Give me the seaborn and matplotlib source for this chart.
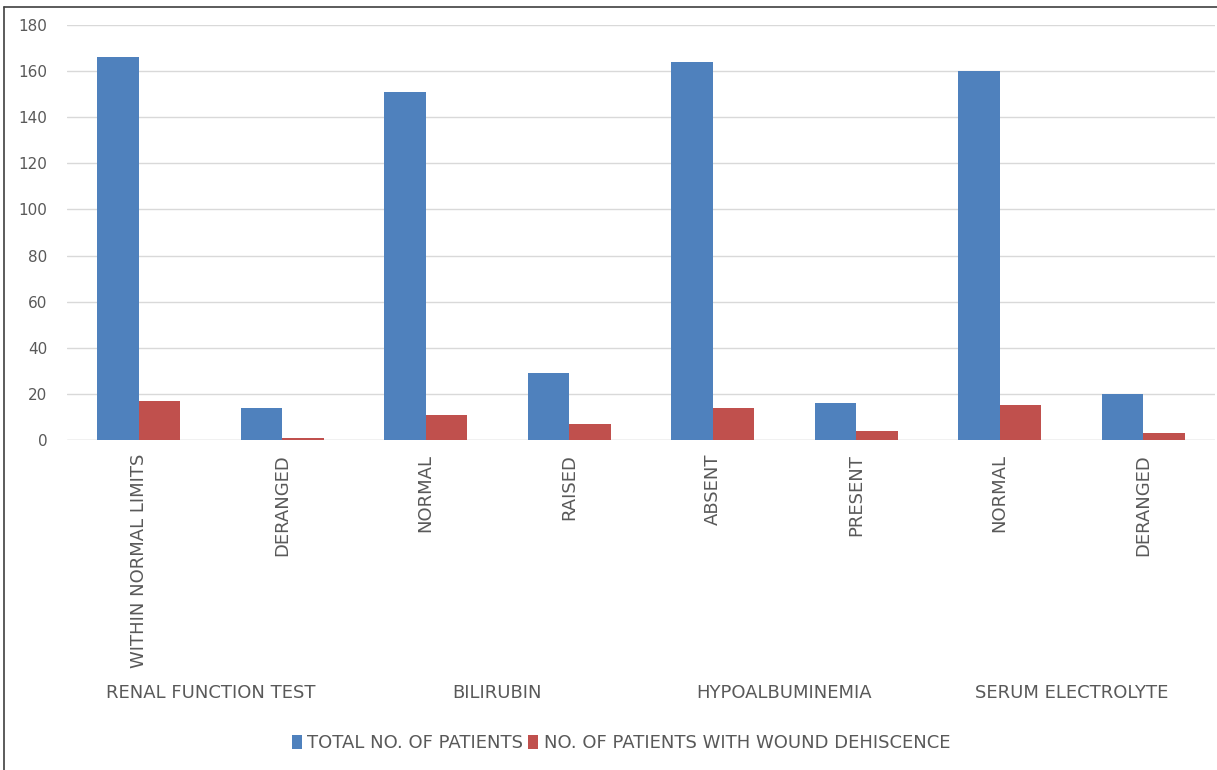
import matplotlib
matplotlib.use("Agg")
import matplotlib.pyplot as plt
from matplotlib.lines import Line2D
from matplotlib.patches import Patch
import pandas as pd
import seaborn as sns

# Lab parameters grouped by test
groups = ["RENAL FUNCTION TEST", "BILIRUBIN", "HYPOALBUMINEMIA", "SERUM ELECTROLYTE"]
subcategories = ["WITHIN NORMAL LIMITS", "DERANGED", "NORMAL", "RAISED",
                 "ABSENT", "PRESENT", "NORMAL", "DERANGED"]
group_of_sub = [0, 0, 1, 1, 2, 2, 3, 3]

total_patients = [166, 14, 151, 29, 164, 16, 160, 20]
dehiscence_patients = [17, 1, 11, 7, 14, 4, 15, 3]

series_names = ["TOTAL NO. OF PATIENTS", "NO. OF PATIENTS WITH WOUND DEHISCENCE"]
colors = ["#4f81bd", "#c0504d"]
y_ticks = list(range(0, 181, 20))

# Long-form table; keys keep repeated sub-category names apart
keys = [f"{groups[g]}|{s}" for g, s in zip(group_of_sub, subcategories)]
df = pd.DataFrame({
    "key": keys * 2,
    "series": [series_names[0]] * len(keys) + [series_names[1]] * len(keys),
    "value": total_patients + dehiscence_patients,
})

sns.set_theme(style="white")
plt.rcParams["font.family"] = ["DejaVu Sans"]

fig = plt.figure(figsize=(12.17, 7.70), dpi=100)
ax = fig.add_axes([67 / 1217, 1 - 440 / 770, (1215 - 67) / 1217, 415 / 770])

sns.barplot(data=df, x="key", y="value", hue="series", order=keys,
            hue_order=series_names, palette=colors, width=0.58,
            saturation=1, ax=ax, legend=False, errorbar=None, linewidth=0)

ax.set_ylim(0, 180)
ax.set_yticks(y_ticks)
ax.yaxis.grid(True, color="#d9d9d9", linewidth=1)
ax.set_axisbelow(True)
for side in ["left", "right", "top", "bottom"]:
    ax.spines[side].set_visible(False)
ax.axhline(0, color="#d9d9d9", linewidth=1, zorder=0.5)

label_color = "#595959"
ax.set_xlabel("")
ax.set_ylabel("")
ax.set_xticks(range(len(keys)))
ax.set_xticklabels(subcategories, rotation=90, va="top", ha="center",
                   fontsize=13, color=label_color)
ax.tick_params(axis="y", labelsize=11, labelcolor=label_color, length=0, pad=14)
ax.tick_params(axis="x", length=0, pad=10)

# Group captions centred beneath each pair of bars
trans = ax.get_xaxis_transform()
for gi, name in enumerate(groups):
    xs = [i for i, g in enumerate(group_of_sub) if g == gi]
    ax.text(sum(xs) / len(xs), (440 - 693) / 415, name, transform=trans,
            ha="center", va="center", fontsize=13, color=label_color)

handles = [Patch(facecolor=c, edgecolor="none") for c in colors]
fig.legend(handles, series_names, loc="center", bbox_to_anchor=(621 / 1217, 1 - 743 / 770),
           ncol=2, frameon=False, fontsize=13, labelcolor=label_color,
           handlelength=0.55, handleheight=0.8, handletextpad=0.3, columnspacing=0.3)

# Outer frame lines
fig.add_artist(Line2D([4 / 1217, 4 / 1217], [0, 1 - 7 / 770], color="#404040", linewidth=1.2))
fig.add_artist(Line2D([4 / 1217, 1], [1 - 7 / 770, 1 - 7 / 770], color="#404040", linewidth=1.2))

fig.savefig("out.png", dpi=100)
